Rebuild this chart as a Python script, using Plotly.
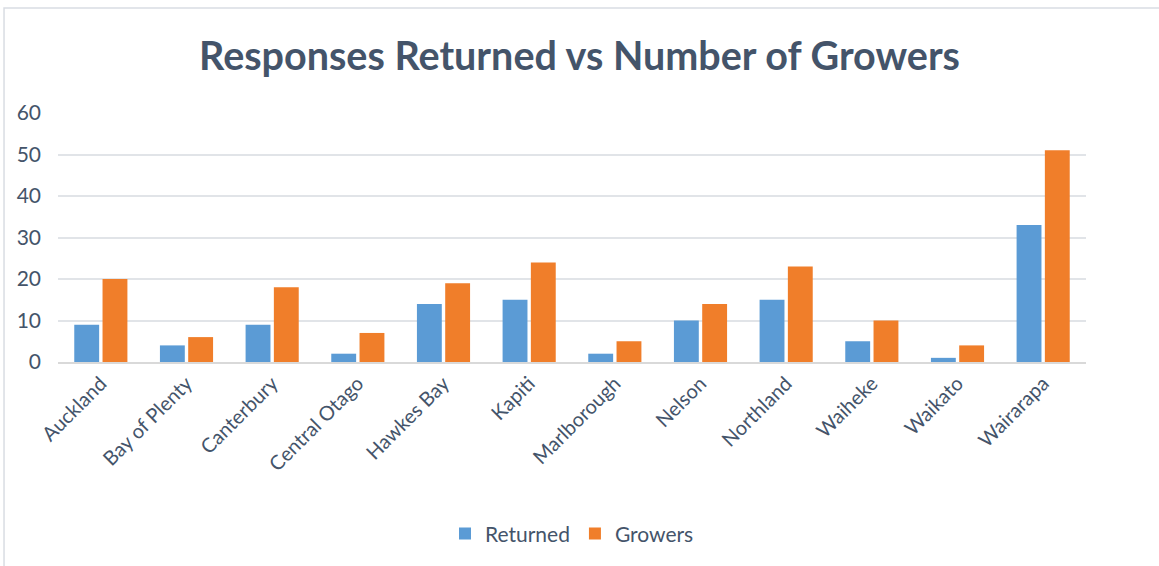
import plotly.graph_objects as go

regions = ['Auckland', 'Bay of Plenty', 'Canterbury', 'Central Otago', 'Hawkes Bay', 'Kapiti',
           'Marlborough', 'Nelson', 'Northland', 'Waiheke', 'Waikato', 'Wairarapa']
returned = [9, 4, 9, 2, 14, 15, 2, 10, 15, 5, 1, 33]
growers = [20, 6, 18, 7, 19, 24, 5, 14, 23, 10, 4, 51]

TEXT = '#44546A'
FONT = 'Lato, "Open Sans", sans-serif'

fig = go.Figure()
fig.add_trace(go.Bar(name='Returned', x=regions, y=returned, marker_color='#5B9BD5', marker_line_width=0))
fig.add_trace(go.Bar(name='Growers', x=regions, y=growers, marker_color='#F07E2A', marker_line_width=0))

fig.update_layout(
    width=1159, height=566,
    barmode='group', bargap=0.34, bargroupgap=0.12,
    paper_bgcolor='white', plot_bgcolor='white',
    font=dict(family=FONT, color=TEXT, size=20),
    margin=dict(l=58, r=73, t=113, b=204),
    title=dict(text='<b>Responses Returned vs Number of Growers</b>', x=0.5, xanchor='center',
               y=0.9, yanchor='middle', font=dict(size=39.5, color=TEXT, family=FONT)),
    xaxis=dict(tickangle=-45, showgrid=False, showline=True, linecolor='#D9D9D9', linewidth=2,
               ticks='', tickfont=dict(size=20, color=TEXT)),
    yaxis=dict(range=[0, 60], dtick=10, gridcolor='#E1E4E8', gridwidth=2, zeroline=False,
               showline=False, ticks='', ticklabelstandoff=16,
               tickfont=dict(size=21, color=TEXT)),
    legend=dict(orientation='h', x=0.5, xanchor='center', y=-0.69, yanchor='middle',
                font=dict(size=21, color=TEXT), itemwidth=30, traceorder='normal'),
    shapes=[dict(type='rect', xref='paper', yref='paper', x0=-0.0525, x1=1.2, y0=-1.2, y1=1.4217,
                 line=dict(color='#D9DDE3', width=1.5))],
)

fig.write_html('out.html', config={'displayModeBar': False},
               post_script="document.body.style.margin='0';")
